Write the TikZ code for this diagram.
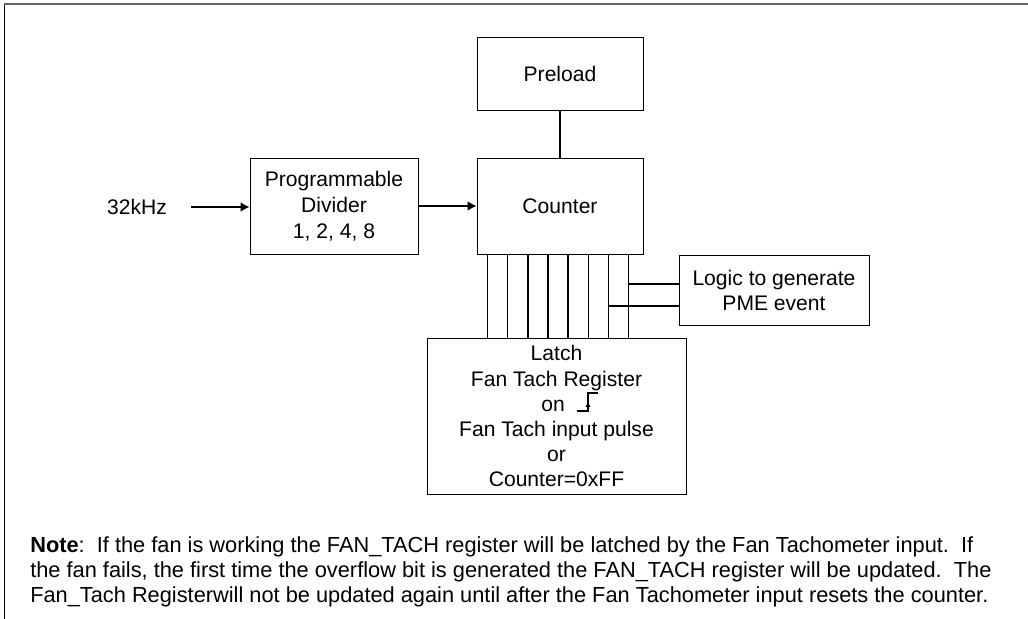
\documentclass[tikz,border=0pt]{standalone}
\usepackage{fontspec}
\setmainfont{Liberation Sans}
\usetikzlibrary{calc,arrows.meta,positioning}

\begin{document}
\begin{tikzpicture}[x=0.25mm,y=-0.25mm,
  every node/.style={font=\fontsize{15}{17.8}\selectfont},
  box/.style={draw,line width=0.7pt,align=center,inner sep=0pt},
  bus/.style={line width=1pt},
  arr/.style={-{Latex[length=2.2mm,width=2.4mm]},line width=0.9pt}]
              \useasboundingbox (0,0) rectangle (1028,619);
              % frame
              \draw[line width=0.6pt] (4,619) -- (4,4);
              \draw[line width=1.3pt,black!60] (4,4) -- (1028,4);
              % blocks
              \node[box,minimum width=41.5mm,minimum height=18.25mm](preload)at(560,73.5){Preload};
              \node[box,minimum width=41.5mm,minimum height=24mm](counter)at(560,206){Counter};
              \node[box,minimum width=42mm,minimum height=24mm,font=\fontsize{15}{18.5}\selectfont](divider)at(334,206){Programmable\\Divider\\1, 2, 4, 8};
              \node[box,minimum width=47.5mm,minimum height=17.5mm](logic)at(774,290){Logic to generate\\PME event};
              \node[box,minimum width=64.75mm,minimum height=39mm](latch)at(556.5,416){Latch\\Fan Tach Register\\\hspace*{6mm}on\hspace*{7.75mm}\mbox{}\\Fan Tach input pulse\\or\\Counter=0xFF};
              \node[inner sep=0pt](clk)at(137,207){32kHz};
              \coordinate[right=6mm of clk](clkin);
              % connections
              \draw[arr](clkin)--(clkin -| divider.west);
              \draw[arr](divider)--(counter);
              \draw[line width=0.9pt](preload)--(counter);
              \foreach \i in {0,...,7}
                \draw[bus]($(counter.south west)+(11+20.15*\i,0)$) coordinate (b\i) -- (b\i |- latch.north);
              \coordinate(tapa)at($(logic.west)+(0,-6)$);
              \coordinate(tapb)at($(logic.west)+(0,16)$);
              \draw[bus](b7 |- tapa)--(tapa);
              \draw[bus](b6 |- tapb)--(tapb);
              % rising edge
              \draw[line width=0.8pt]($(latch.center)+(20.5,-5)$)--++(11,0)--++(0,-18)--++(10,0);
              \draw[-{Latex[length=1.2mm,width=1.3mm]},line width=0.6pt]($(latch.center)+(31.5,-7)$)--++(0,-7);
              % note
              \node[anchor=west,align=left,inner sep=0pt,font=\fontsize{15.5}{17.6}\selectfont](note)at(30,572){\textbf{Note}:\ \ If the fan is working the FAN\_TACH register will be latched by the Fan Tachometer input.\ \ If\\the fan fails, the first time the overflow bit is generated the FAN\_TACH register will be updated.\ \ The\\Fan\_Tach Registerwill not be updated again until after the Fan Tachometer input resets the counter.};
            \end{tikzpicture}
\end{document}
